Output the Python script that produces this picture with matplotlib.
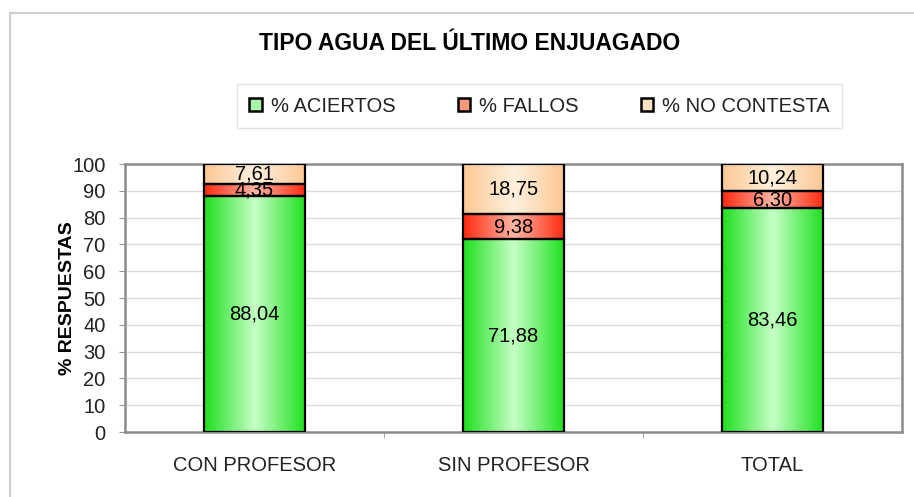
import matplotlib
matplotlib.use("Agg")
import matplotlib.pyplot as plt
import numpy as np
from matplotlib.patches import Rectangle
from matplotlib.colors import LinearSegmentedColormap

plt.rcParams['font.family'] = ['Liberation Sans', 'DejaVu Sans']

categories = ["CON PROFESOR", "SIN PROFESOR", "TOTAL"]
series_names = ["% ACIERTOS", "% FALLOS", "% NO CONTESTA"]
aciertos = [88.04, 71.88, 83.46]
fallos = [4.35, 9.38, 6.30]
no_contesta = [7.61, 18.75, 10.24]
labels_aciertos = ["88,04", "71,88", "83,46"]
labels_fallos = ["4,35", "9,38", "6,30"]
labels_no = ["7,61", "18,75", "10,24"]
yticks = [0, 10, 20, 30, 40, 50, 60, 70, 80, 90, 100]

edge_colors = ["#1fe01f", "#ff2a10", "#fcc894"]
center_colors = ["#c4ffc4", "#ffb4a2", "#fff0dd"]
legend_colors = ["#a8f5a8", "#fb9a7a", "#fde2c0"]

W, H = 914, 497
fig = plt.figure(figsize=(W / 100, H / 100), dpi=100)
fig.patch.set_facecolor("white")

# outer chart border
fig.patches.append(Rectangle((10 / W, -0.05), 1.2, 1 - 13 / H + 0.05, transform=fig.transFigure,
                             fill=False, edgecolor="#d0d0d0", linewidth=1.5))

ax = fig.add_axes([125 / W, 1 - 432 / H, (902 - 125) / W, (432 - 164) / H])
x = np.arange(len(categories))
width = 0.39

grad = np.concatenate([np.linspace(0, 1, 50), np.linspace(1, 0, 50)]).reshape(1, -1)

series = [aciertos, fallos, no_contesta]
lbls = [labels_aciertos, labels_fallos, labels_no]
bottoms = np.zeros(len(categories))
for s, vals in enumerate(series):
    cmap = LinearSegmentedColormap.from_list("g%d" % s, [edge_colors[s], center_colors[s]])
    bars = ax.bar(x, vals, width, bottom=bottoms, color="none", edgecolor="black",
                  linewidth=1.6, zorder=4)
    for i, b in enumerate(bars):
        ax.imshow(grad, cmap=cmap, aspect="auto", interpolation="bilinear",
                  extent=[b.get_x(), b.get_x() + b.get_width(), b.get_y(), b.get_y() + b.get_height()],
                  zorder=3)
        ax.text(b.get_x() + b.get_width() / 2, b.get_y() + b.get_height() / 2, lbls[s][i],
                ha="center", va="center", fontsize=14.5, color="black", zorder=5)
    bottoms = bottoms + np.array(vals)

ax.set_xlim(-0.5, len(categories) - 0.5)
ax.set_ylim(0, 100)
ax.set_yticks(yticks)
ax.set_yticklabels([str(v) for v in yticks], fontsize=14.5, color="#222222")
ax.set_xticks(x)
ax.set_xticklabels(categories, fontsize=14.5, color="#222222")
ax.tick_params(axis="x", length=0, pad=17)
ax.tick_params(axis="y", length=4, color="#999999", pad=10)
ax.set_xticks([0.5, 1.5], minor=True)
ax.tick_params(axis="x", which="minor", length=4, color="#999999")
ax.yaxis.grid(True, color="#dcdcdc", linewidth=1.0, zorder=0)
ax.set_axisbelow(True)
for sp in ax.spines.values():
    sp.set_color("#8c8c8c")
    sp.set_linewidth(1.8)

ax.set_ylabel("% RESPUESTAS", fontsize=14, fontweight="bold")
ax.yaxis.set_label_coords((76 - 125) / (902 - 125), 0.5)

fig.text(470 / W, 1 - 43 / H, "TIPO AGUA DEL ÚLTIMO ENJUAGADO", ha="center", va="center",
         fontsize=16.5, fontweight="bold", color="black")

# legend
handles = [Rectangle((0, 0), 1, 1, facecolor=legend_colors[i], edgecolor="black", linewidth=1.8)
           for i in range(3)]
leg = fig.legend(handles, series_names, loc="center", bbox_to_anchor=(539.5 / W, 1 - 106 / H),
                 ncol=3, fontsize=14.5, frameon=True, fancybox=False, edgecolor="#dddddd",
                 handlelength=0.6, handleheight=0.6, handletextpad=0.45, columnspacing=3.1,
                 borderpad=0.62)
leg.get_frame().set_linewidth(1.0)
for t in leg.get_texts():
    t.set_color("#222222")

fig.savefig("out.png", dpi=100)
